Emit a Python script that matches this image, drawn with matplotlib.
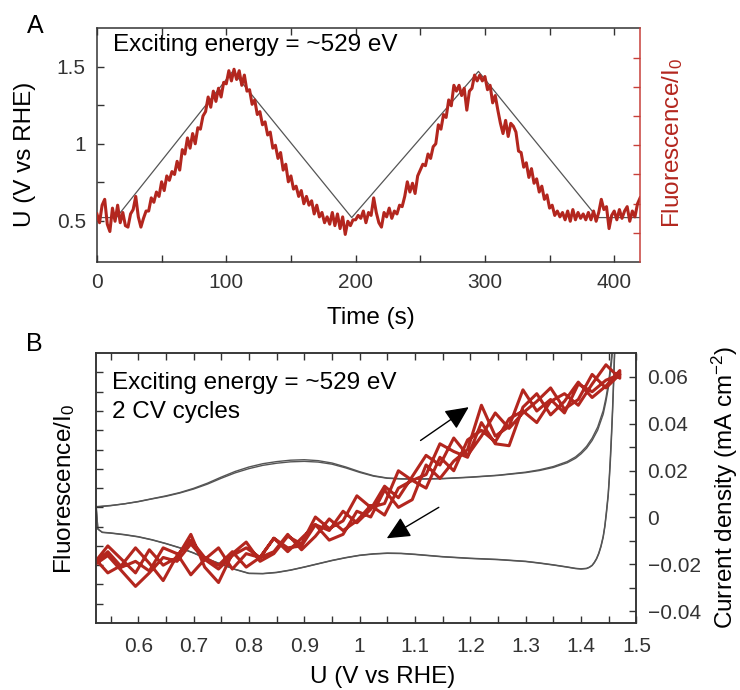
import numpy as np
import matplotlib
matplotlib.use('Agg')
import matplotlib.pyplot as plt
from matplotlib.ticker import FixedLocator, FuncFormatter, NullFormatter

plt.rcParams['font.family'] = ['Liberation Sans', 'DejaVu Sans']
plt.rcParams['mathtext.fontset'] = 'custom'
plt.rcParams['mathtext.rm'] = 'Liberation Sans'
plt.rcParams['mathtext.it'] = 'Liberation Sans:italic'

RED = '#b3261e'
RED_AXIS = '#c8403a'
GREY = '#555555'
TICK = '#333333'

# ---- panel A: potential program and O K-edge fluorescence vs time ----
pot_t = [0, 15, 105, 197, 295, 387, 420]
pot_u = [0.52, 0.52, 1.47, 0.52, 1.47, 0.52, 0.52]

time_s = np.arange(0, 421, 2)
fluo_t = [
    1.65, 1.35, 1.95, 2.15, 1.30, 1.05, 1.85, 1.40, 1.95, 1.35,
    1.70, 1.25, 1.20, 1.65, 1.80, 2.25, 1.55, 1.20, 1.50, 1.75,
    1.75, 2.20, 2.05, 2.40, 2.25, 2.75, 2.45, 2.95, 2.80, 3.10,
    3.00, 3.45, 3.15, 3.85, 3.70, 4.25, 3.90, 4.40, 4.05, 4.60,
    4.55, 5.00, 5.15, 5.65, 5.30, 5.85, 5.50, 5.95, 5.65, 6.15,
    6.10, 6.55, 6.20, 6.60, 6.25, 6.55, 6.05, 6.40, 5.85, 5.90,
    5.40, 5.55, 5.05, 5.15, 4.70, 4.80, 4.35, 4.45, 3.90, 4.00,
    3.55, 3.75, 3.15, 3.35, 2.75, 2.95, 2.50, 2.60, 2.25, 2.45,
    2.00, 2.25, 1.95, 2.10, 1.65, 1.95, 1.55, 1.70, 1.35, 1.55,
    1.30, 1.70, 1.25, 1.65, 1.15, 1.55, 0.95, 1.40, 1.25, 1.45,
    1.45, 1.60, 1.50, 1.75, 1.35, 1.70, 1.60, 2.20, 1.70, 1.35,
    1.20, 1.70, 1.55, 1.85, 1.50, 1.75, 1.65, 1.95, 1.90, 2.25,
    2.75, 2.40, 2.70, 2.35, 2.95, 3.15, 3.35, 3.30, 3.70, 3.55,
    3.95, 4.05, 4.70, 4.55, 5.05, 4.95, 5.55, 5.35, 6.05, 5.85,
    6.05, 5.70, 5.95, 5.20, 5.85, 5.95, 6.40, 6.20, 6.40, 6.20,
    6.35, 5.90, 6.05, 5.45, 5.70, 5.20, 4.75, 4.40, 4.85, 4.30,
    4.75, 4.65, 4.45, 3.80, 3.75, 3.25, 3.40, 2.90, 3.20, 2.70,
    2.85, 2.40, 2.60, 2.15, 2.30, 1.85, 1.95, 1.60, 1.75, 1.55,
    1.70, 1.45, 1.75, 1.40, 1.80, 1.45, 1.70, 1.50, 1.65, 1.45,
    1.70, 1.45, 1.75, 1.40, 1.70, 2.15, 1.80, 1.90, 1.15, 1.60,
    1.75, 1.45, 1.80, 1.50, 1.75, 1.90, 1.40, 1.75, 1.55, 2.00, 2.20,
]

# ---- panel B: CV (2 cycles) and fluorescence vs potential ----
cv_u_anodic = [0.524, 0.55, 0.575, 0.60, 0.625, 0.65, 0.675, 0.70, 0.725, 0.75,
               0.775, 0.80, 0.825, 0.85, 0.875, 0.90, 0.925, 0.95, 0.975, 1.00,
               1.025, 1.05, 1.075, 1.10, 1.15, 1.20, 1.25, 1.30, 1.325, 1.35,
               1.375, 1.39, 1.40, 1.41, 1.42, 1.43, 1.44, 1.445, 1.45, 1.455,
               1.46]
cv_j_anodic_1 = [0.0044, 0.0050, 0.0058, 0.0068, 0.0080, 0.0092, 0.0106, 0.0124,
                 0.0146, 0.0172, 0.0196, 0.0215, 0.0229, 0.0238, 0.0244, 0.0246,
                 0.0242, 0.0232, 0.0215, 0.0195, 0.0178, 0.0168, 0.0165, 0.0164,
                 0.0166, 0.0172, 0.0180, 0.0193, 0.0203, 0.0217, 0.0238, 0.0258,
                 0.0278, 0.0303, 0.0338, 0.0385, 0.0455, 0.0510, 0.0580, 0.0680,
                 0.0820]
cv_j_anodic_2 = [0.0046, 0.0051, 0.0058, 0.0067, 0.0079, 0.0090, 0.0104, 0.0121,
                 0.0142, 0.0167, 0.0190, 0.0208, 0.0222, 0.0231, 0.0237, 0.0239,
                 0.0236, 0.0227, 0.0211, 0.0192, 0.0176, 0.0167, 0.0164, 0.0163,
                 0.0165, 0.0171, 0.0179, 0.0191, 0.0200, 0.0213, 0.0233, 0.0252,
                 0.0271, 0.0295, 0.0328, 0.0372, 0.0440, 0.0495, 0.0562, 0.0660,
                 0.0800]
cv_u_cathodic = [1.466, 1.463, 1.461, 1.459, 1.457, 1.455, 1.453, 1.451, 1.449,
                 1.446, 1.443, 1.440, 1.436, 1.432, 1.428, 1.424, 1.420, 1.415,
                 1.410, 1.40, 1.39, 1.375, 1.35, 1.325, 1.30, 1.25, 1.20, 1.15,
                 1.10, 1.075, 1.05, 1.025, 1.00, 0.975, 0.95, 0.925, 0.90, 0.875,
                 0.85, 0.825, 0.80, 0.775, 0.75, 0.725, 0.70, 0.675, 0.65, 0.625,
                 0.60, 0.575, 0.55, 0.535, 0.527, 0.524]
cv_j_cathodic_1 = [0.100, 0.085, 0.072, 0.058, 0.045, 0.034, 0.024, 0.016, 0.009,
                   0.002, -0.0040, -0.0085, -0.0125, -0.0155, -0.0177, -0.0193,
                   -0.0205, -0.0213, -0.0218, -0.0220, -0.0218, -0.0212, -0.0203,
                   -0.0195, -0.0188, -0.0180, -0.0175, -0.0168, -0.0158, -0.0154,
                   -0.0153, -0.0156, -0.0162, -0.0172, -0.0184, -0.0198, -0.0212,
                   -0.0225, -0.0235, -0.0240, -0.0239, -0.0222, -0.0200, -0.0178,
                   -0.0152, -0.0130, -0.0112, -0.0096, -0.0083, -0.0074, -0.0067,
                   -0.0064, -0.0050, 0.0044]
cv_j_cathodic_2 = [0.100, 0.087, 0.074, 0.060, 0.047, 0.036, 0.026, 0.017, 0.010,
                   0.003, -0.0035, -0.0080, -0.0121, -0.0152, -0.0175, -0.0191,
                   -0.0204, -0.0212, -0.0217, -0.0219, -0.0217, -0.0211, -0.0202,
                   -0.0194, -0.0187, -0.0179, -0.0174, -0.0167, -0.0157, -0.0153,
                   -0.0152, -0.0155, -0.0161, -0.0171, -0.0183, -0.0197, -0.0211,
                   -0.0224, -0.0234, -0.0239, -0.0238, -0.0221, -0.0199, -0.0177,
                   -0.0151, -0.0129, -0.0111, -0.0095, -0.0082, -0.0073, -0.0066,
                   -0.0063, -0.0049, 0.0046]

u_sweep = [0.520, 0.545, 0.570, 0.595, 0.620, 0.645, 0.670, 0.695, 0.720, 0.745,
           0.770, 0.795, 0.820, 0.845, 0.870, 0.895, 0.920, 0.945, 0.970, 0.995,
           1.020, 1.045, 1.070, 1.095, 1.120, 1.145, 1.170, 1.195, 1.220, 1.245,
           1.270, 1.295, 1.320, 1.345, 1.370, 1.395, 1.420, 1.445, 1.470]
fl_hold_start = [3.2, 4.6, 2.3, 3.6, 5.2, 2.1, 3.9, 3.0]
fl_fwd1 = [3.4, 2.6, 3.0, 3.9, 3.1, 2.2, 3.5, 4.3, 3.4, 3.0,
           3.7, 2.9, 3.4, 4.4, 3.9, 4.0, 5.1, 4.3, 4.6, 5.8,
           5.5, 6.9, 6.0, 6.4, 8.2, 7.5, 8.4, 9.0, 11.3, 9.7,
           10.2, 12.1, 11.0, 11.6, 10.9, 12.4, 12.0, 12.6, 12.9]
# reverse sweeps listed from 1.47 V down to 0.52 V
fl_rev1 = [13.1, 12.3, 11.7, 12.5, 11.5, 10.8, 11.9, 11.2, 9.2, 9.3,
           10.4, 8.6, 8.9, 9.3, 7.7, 7.4, 7.9, 6.2, 6.0, 6.6,
           5.3, 4.9, 5.5, 4.1, 4.5, 3.6, 3.2, 4.2, 3.6, 2.1,
           2.9, 4.6, 3.4, 3.0, 3.8, 2.6, 3.3, 4.0, 3.1]
fl_fwd2 = [3.0, 3.5, 2.7, 1.9, 2.6, 3.4, 3.2, 4.1, 3.3, 2.8,
           3.5, 3.9, 3.4, 3.7, 4.6, 3.8, 4.5, 5.4, 4.8, 5.3,
           6.1, 5.6, 7.0, 7.4, 7.0, 8.6, 7.9, 9.5, 10.0, 9.4,
           10.6, 11.0, 10.4, 11.5, 11.9, 11.3, 12.4, 13.4, 12.7]
fl_rev2 = [12.9, 12.2, 12.9, 11.6, 11.1, 12.2, 11.5, 10.9, 10.1, 10.9,
           9.7, 8.7, 9.6, 8.2, 8.7, 7.6, 6.5, 7.1, 5.9, 5.2,
           5.8, 4.8, 5.1, 4.4, 3.7, 4.4, 3.4, 3.6, 2.8, 3.9,
           3.3, 2.5, 3.6, 3.9, 2.7, 3.2, 2.9, 3.7, 3.0]
fl_hold_end = [3.1, 3.8, 2.6, 3.4, 2.2, 3.6, 3.0, 4.0, 3.3]


def g_fmt(v, pos):
    return f'{v:g}'


def j_fmt(v, pos):
    if abs(v) < 1e-9:
        return '0'
    return f'{v:.2f}'.replace('-', '\u2212')


def style_ticks(ax, **kw):
    ax.tick_params(which='both', direction='in', length=5, width=1,
                   color=TICK, labelcolor=TICK, labelsize=15, **kw)


fig = plt.figure(figsize=(7.4, 6.9), dpi=100)

# ---------------- panel A ----------------
axA = fig.add_axes([0.131, 0.620, 0.734, 0.339])
axA.plot(pot_t, pot_u, color=GREY, lw=0.9)
axA.set_xlim(0, 420)
axA.set_ylim(0.23, 1.75)
axA.xaxis.set_major_locator(FixedLocator([0, 100, 200, 300, 400]))
axA.xaxis.set_minor_locator(FixedLocator([50, 150, 250, 350]))
axA.yaxis.set_major_locator(FixedLocator([0.5, 1.0, 1.5]))
axA.yaxis.set_minor_locator(FixedLocator([0.75, 1.25]))
axA.yaxis.set_major_formatter(FuncFormatter(g_fmt))
style_ticks(axA, top=True, right=False, pad=8)
for s in axA.spines.values():
    s.set_color(TICK)
    s.set_linewidth(1.1)
axA.spines['right'].set_visible(False)
axA.set_xlabel('Time (s)', fontsize=17.5, va='center')
axA.xaxis.set_label_coords(0.505, -0.239)
axA.set_ylabel('U (V vs RHE)', fontsize=17.5, va='center')
axA.yaxis.set_label_coords(-0.133, 0.46)
axA.text(0.029, 0.927, 'Exciting energy = ~529 eV', transform=axA.transAxes,
         fontsize=17.5, va='center', ha='left')

axA2 = axA.twinx()
axA2.plot(time_s, fluo_t, color=RED, lw=2.2)
axA2.set_ylim(0, 8)
axA2.yaxis.set_major_locator(FixedLocator(range(1, 8)))
axA2.yaxis.set_major_formatter(NullFormatter())
axA2.tick_params(axis='y', direction='in', length=5, width=1, color=RED_AXIS)
for side in ('left', 'top', 'bottom'):
    axA2.spines[side].set_visible(False)
axA2.spines['right'].set_color(RED_AXIS)
axA2.spines['right'].set_linewidth(1.1)
axA2.set_ylabel('Fluorescence/I$_0$', color=RED, fontsize=17.5,
                rotation=90, va='center')
axA2.yaxis.set_label_coords(1.059, 0.509)

fig.text(0.047, 0.962, 'A', fontsize=18, ha='center', va='center')

# ---------------- panel B ----------------
axB = fig.add_axes([0.130, 0.0971, 0.730, 0.391])
axB2 = axB.twinx()
axB.set_zorder(axB2.get_zorder() + 1)
axB.patch.set_visible(False)

for j_an, j_ca in ((cv_j_anodic_1, cv_j_cathodic_1), (cv_j_anodic_2, cv_j_cathodic_2)):
    axB2.plot(cv_u_anodic + cv_u_cathodic, j_an + j_ca, color=GREY, lw=1.0)

u_red = ([u_sweep[0]] * len(fl_hold_start) + u_sweep + u_sweep[::-1]
         + u_sweep + u_sweep[::-1] + [u_sweep[0]] * len(fl_hold_end))
f_red = fl_hold_start + fl_fwd1 + fl_rev1 + fl_fwd2 + fl_rev2 + fl_hold_end
axB.plot(u_red, f_red, color=RED, lw=2.2)

axB.set_xlim(0.524, 1.5)
axB.set_ylim(0, 14)
axB.xaxis.set_major_locator(FixedLocator([0.6, 0.7, 0.8, 0.9, 1.0, 1.1, 1.2, 1.3, 1.4, 1.5]))
axB.xaxis.set_minor_locator(FixedLocator([0.55, 0.65, 0.75, 0.85, 0.95, 1.05,
                                          1.15, 1.25, 1.35, 1.45]))
axB.xaxis.set_major_formatter(FuncFormatter(g_fmt))
axB.yaxis.set_major_locator(FixedLocator(range(1, 14)))
axB.yaxis.set_major_formatter(NullFormatter())
style_ticks(axB, top=True, right=False, pad=10)
for s in axB.spines.values():
    s.set_color(TICK)
    s.set_linewidth(1.1)
axB.set_xlabel('U (V vs RHE)', fontsize=17.5, va='center')
axB.xaxis.set_label_coords(0.53, -0.2)
axB.set_ylabel('Fluorescence/I$_0$', fontsize=17.5, va='center')
axB.yaxis.set_label_coords(-0.059, 0.496)
axB.text(0.030, 0.889, 'Exciting energy = ~529 eV', transform=axB.transAxes,
         fontsize=17.5, va='center', ha='left')
axB.text(0.030, 0.781, '2 CV cycles', transform=axB.transAxes,
         fontsize=17.5, va='center', ha='left')

axB2.set_ylim(-0.045, 0.07)
axB2.yaxis.set_major_locator(FixedLocator([-0.04, -0.02, 0.0, 0.02, 0.04, 0.06]))
axB2.yaxis.set_minor_locator(FixedLocator([-0.03, -0.01, 0.01, 0.03, 0.05]))
axB2.yaxis.set_major_formatter(FuncFormatter(j_fmt))
style_ticks(axB2, pad=8)
for s in axB2.spines.values():
    s.set_color(TICK)
    s.set_linewidth(1.1)
axB2.set_ylabel('Current density (mA cm$^{-2}$)', fontsize=17.5,
                rotation=90, va='center')
axB2.yaxis.set_label_coords(1.163, 0.504)

# sweep-direction arrows
arrow_kw = dict(arrowstyle='-|>,head_length=0.95,head_width=0.45',
                color='black', lw=1.0, mutation_scale=15, shrinkA=0, shrinkB=0)
axB2.annotate('', xy=(1.197, 0.047), xytext=(1.11, 0.0328), arrowprops=arrow_kw)
axB2.annotate('', xy=(1.049, -0.0089), xytext=(1.143, 0.0043), arrowprops=arrow_kw)

fig.text(0.047, 0.501, 'B', fontsize=18, ha='center', va='center')

fig.savefig('out.png', dpi=100)
